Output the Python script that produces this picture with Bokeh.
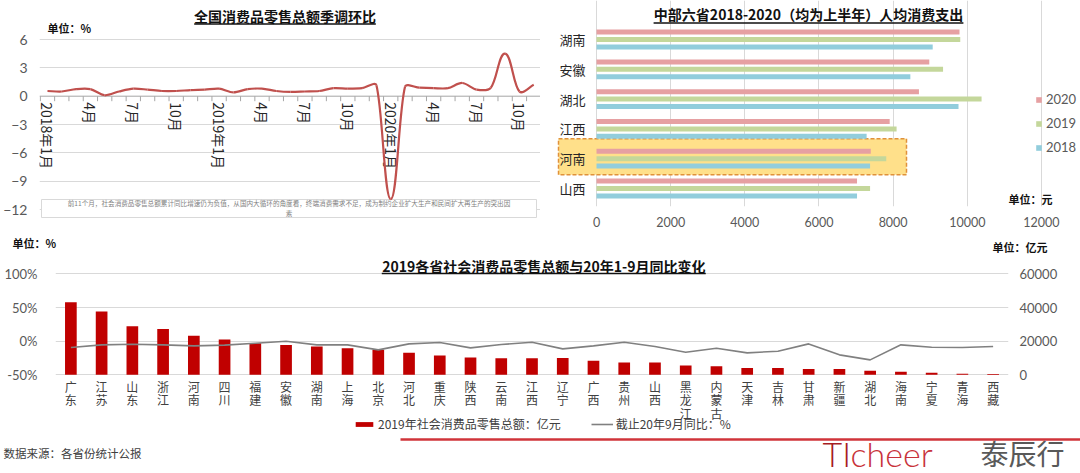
import numpy as np
from bokeh.plotting import figure
from bokeh.models import (Range1d, FixedTicker, LinearAxis, Legend, LegendItem,
                          PrintfTickFormatter, Span)
from bokeh.layouts import column, row
from bokeh.core.properties import value
from bokeh.embed import file_html
from bokeh.resources import INLINE

CJK = "Noto Sans CJK SC"
NUM = "Lato"

# ---------------- data: chart 1 (national retail sales, s.a. m/m %) ----------------
mom_values = [0.55, 0.5, 0.75, 0.75, 0.1, 0.5, 0.8, 0.7, 0.55, 0.55, 0.65, 0.7,
              0.8, 0.4, 0.75, 0.8, 0.55, 0.45, 0.5, 0.55, 0.85, 0.8, 0.85, 1.15,
              -10.9, 1.0, 0.9, 0.85, 0.85, 1.4, 0.7, 0.9, 4.5, 0.5, 1.2]
mom_tick_pos = [0, 3, 6, 9, 12, 15, 18, 21, 24, 27, 30, 33]
mom_tick_labels = ["2018年1月", "4月", "7月", "10月", "2019年1月", "4月", "7月", "10月",
                   "2020年1月", "4月", "7月", "10月"]
mom_y_ticks = [6, 3, 0, -3, -6, -9, -12]
mom_title = "全国消费品零售总额季调环比"
mom_unit = "单位：%"
mom_note = ("前11个月，社会消费品零售总额累计同比增速仍为负值，从国内大循环的角度看，"
            "终端消费需求不足，成为制约企业扩大生产和民间扩大再生产的突出因\n素")

# ---------------- data: chart 2 (six central provinces, per-capita spending) ----------------
prov6 = ["湖南", "安徽", "湖北", "江西", "河南", "山西"]
spend_2020 = [9790, 8975, 8696, 7907, 7397, 7026]
spend_2019 = [9810, 9346, 10385, 8093, 7814, 7378]
spend_2018 = [9067, 8464, 9763, 7285, 7378, 7026]
spend_ticks = [0, 2000, 4000, 6000, 8000, 10000, 12000]
spend_highlight = "河南"
spend_title = "中部六省2018-2020（均为上半年）人均消费支出"
spend_unit = "单位：元"

# ---------------- data: chart 3 (provinces) ----------------
prov31 = ["广东", "江苏", "山东", "浙江", "河南", "四川", "福建", "安徽", "湖南", "上海",
          "北京", "河北", "重庆", "陕西", "云南", "江西", "辽宁", "广西", "贵州", "山西",
          "黑龙江", "内蒙古", "天津", "吉林", "甘肃", "新疆", "湖北", "海南", "宁夏", "青海", "西藏"]
retail_2019 = [43200, 37600, 28900, 27300, 23200, 21000, 18800, 17800, 16800, 15800,
               14850, 13100, 11500, 10300, 9900, 9900, 10000, 8400, 7400, 7400,
               5500, 5100, 4100, 4100, 3450, 3450, 2450, 1850, 1250, 700, 500]
yoy_2020 = [-9.4, -5.4, -4.5, -5.4, -6.9, -5.9, -3.0, 0.0, -5.4, -5.4,
            -12.9, -4.0, -2.0, -9.9, -5.0, -1.5, -11.4, -6.9, -1.5, -7.9,
            -16.3, -10.4, -17.3, -14.9, -4.0, -20.3, -27.7, -5.4, -8.9, -9.4, -7.9]
pct_ticks = [-50, 0, 50, 100]
amt_ticks = [0, 20000, 40000, 60000]
prov_title = "2019各省社会消费品零售总额与20年1-9月同比变化"
prov_unit_left = "单位：%"
prov_unit_right = "单位：亿元"
legend_bar = "2019年社会消费品零售总额：亿元"
legend_line = "截止20年9月同比：%"
source_text = "数据来源：各省份统计公报"
logo_a, logo_b, logo_c = "TI", "cheer", "泰辰行"


def est_w(text, size, narrow=0.57):
    return sum(size if ord(c) > 0x2E80 else size * narrow for c in text)


def base_fig(**kw):
    f = figure(output_backend="svg", toolbar_location=None, frame_align=False, **kw)
    f.outline_line_color = None
    f.background_fill_color = "white"
    f.border_fill_color = "white"
    return f


def style_axis(ax, size="13px", standoff=5):
    ax.major_label_text_font = NUM
    ax.major_label_text_font_size = size
    ax.major_label_text_color = "#595959"
    ax.major_tick_line_color = None
    ax.minor_tick_line_color = None
    ax.axis_line_color = None
    ax.major_label_standoff = standoff


def label(f, x, y, txt, size="11px", bold=True, align="left", color="#111111", font=CJK):
    f.text(x=[x], y=[y], text=[txt], text_font=value(font), text_font_size=size,
           text_font_style="bold" if bold else "normal", text_align=align,
           text_baseline="middle", text_color=color)


# ======================= chart 1 (page x 0-540, y 0-230) =======================
SX1, SY1 = 14.33, 9.444          # px per month, px per 1 %
X0_1, Y0_1 = 46.0, 95.7          # page px of first month and of value 0


def p1x(px):
    return (px - X0_1) / SX1


def p1y(py):
    return (Y0_1 - py) / SY1


p1 = base_fig(width=540, height=230, x_range=Range1d(p1x(38), p1x(540)),
              y_range=Range1d(p1y(230), p1y(0)), x_axis_type=None,
              min_border_left=38, min_border_right=0, min_border_top=0, min_border_bottom=0)
ya1 = p1.yaxis[0]
ya1.ticker = FixedTicker(ticks=mom_y_ticks)
style_axis(ya1, "14px", 6)
p1.ygrid.ticker = FixedTicker(ticks=[t for t in mom_y_ticks if t != 0])
p1.ygrid.grid_line_color = "#d9d9d9"

zero = Span(location=0, dimension="width", line_color="#a6a6a6", line_width=1)
zero.level = "underlay"
p1.add_layout(zero)

n_m = len(mom_values)
bounds = [i - 0.5 for i in range(n_m + 1)]
p1.segment(x0=bounds, x1=bounds, y0=[0] * len(bounds), y1=[-5 / SY1] * len(bounds),
           line_color="#a6a6a6", line_width=1)

# note box
p1.quad(left=[p1x(40)], right=[p1x(536)], bottom=[p1y(217)], top=[p1y(199)],
        fill_color="white", line_color="#d9d9d9", line_width=1)
p1.text(x=[p1x(288)], y=[p1y(207.5)], text=[mom_note], text_font=value(CJK),
        text_font_size="6.6px", text_color="#7f7f7f", text_align="center",
        text_baseline="middle", text_line_height=1.05)

# month labels hanging under the zero line
p1.text(x=mom_tick_pos, y=[-6 / SY1] * len(mom_tick_pos), text=mom_tick_labels,
        angle=-np.pi / 2, text_font=value(CJK), text_font_size="14px",
        text_color="#262626", text_align="left", text_baseline="middle")


# smoothed line (Excel-like) drawn with bezier segments through the data points
def smooth(xs, ys, sx, sy, k=0.3, clamp=0.45):
    P = np.stack([np.asarray(xs, float) * sx, np.asarray(ys, float) * sy], 1)
    n = len(P)
    hin = P.copy()
    hout = P.copy()
    for i in range(n):
        d = P[min(i + 1, n - 1)] - P[max(i - 1, 0)]
        d = d / np.hypot(*d)
        if i > 0:
            seg = P[i] - P[i - 1]
            h = d * np.hypot(*seg) * k
            if abs(h[0]) > clamp * seg[0]:
                h = h * clamp * seg[0] / abs(h[0])
            hin[i] = P[i] - h
        if i < n - 1:
            seg = P[i + 1] - P[i]
            h = d * np.hypot(*seg) * k
            if abs(h[0]) > clamp * seg[0]:
                h = h * clamp * seg[0] / abs(h[0])
            hout[i] = P[i] + h
    return dict(x0=P[:-1, 0] / sx, y0=P[:-1, 1] / sy, x1=P[1:, 0] / sx, y1=P[1:, 1] / sy,
                cx0=hout[:-1, 0] / sx, cy0=hout[:-1, 1] / sy,
                cx1=hin[1:, 0] / sx, cy1=hin[1:, 1] / sy)


bz = smooth(list(range(n_m)), mom_values, SX1, SY1)
p1.bezier(line_color="#C0504D", line_width=2.2, **bz)

label(p1, p1x(284), p1y(15), mom_title, size="14px", align="center")
w1 = est_w(mom_title, 14)
p1.segment(x0=[p1x(284 - w1 / 2)], x1=[p1x(284 + w1 / 2)], y0=[p1y(23.5)], y1=[p1y(23.5)],
           line_color="#111111", line_width=1.3)
label(p1, p1x(46), p1y(27), mom_unit)

# ======================= chart 2 (page x 540-1080, y 0-230) =======================
PPU2 = 0.03708                     # px per unit
X0_2, Y0_2, G2 = 596.0, 39.0, 29.8  # page px of 0, of first group, px per group


def p2x(px):
    return (px - X0_2) / PPU2


def p2y(py):
    return -(py - Y0_2) / G2


p2 = base_fig(width=540, height=230, x_range=Range1d(p2x(548), p2x(1080)),
              y_range=Range1d(p2y(206), p2y(0)), y_axis_type=None,
              min_border_left=8, min_border_right=0, min_border_top=0, min_border_bottom=24)
xa2 = p2.xaxis[0]
xa2.ticker = FixedTicker(ticks=spend_ticks)
style_axis(xa2, "12.5px", 4)
p2.xgrid.grid_line_color = "#d9d9d9"

gy = [-i for i in range(len(prov6))]
hi = -prov6.index(spend_highlight)
p2.quad(left=[p2x(558)], right=[p2x(906)], bottom=[hi - 16 / G2], top=[hi + 20 / G2],
        fill_color="#FFE08A", line_color="#E0913A", line_width=1.5, line_dash="4 2")

off, bh = 7.4 / G2, 5.0 / G2
r20 = p2.hbar(y=[g + off for g in gy], right=spend_2020, left=0, height=bh,
              fill_color="#E6A0A2", line_color=None)
r19 = p2.hbar(y=gy, right=spend_2019, left=0, height=bh, fill_color="#C4D79B", line_color=None)
r18 = p2.hbar(y=[g - off for g in gy], right=spend_2018, left=0, height=bh,
              fill_color="#92CDDC", line_color=None)

p2.text(x=[p2x(572)] * len(prov6), y=gy, text=prov6, text_font=value(CJK),
        text_font_size="13px", text_color="#262626", text_align="center",
        text_baseline="middle")

leg2 = Legend(items=[LegendItem(label="2020", renderers=[r20]),
                     LegendItem(label="2019", renderers=[r19]),
                     LegendItem(label="2018", renderers=[r18])],
              location=(487, 49), orientation="vertical", glyph_width=7, glyph_height=7,
              label_height=20, spacing=4, padding=0, margin=0, label_standoff=4,
              label_text_font=NUM, label_text_font_size="13px", label_text_color="#595959",
              background_fill_alpha=0, border_line_alpha=0)
p2.add_layout(leg2)

label(p2, p2x(808), p2y(13), spend_title, size="14px", align="center")
w2 = est_w(spend_title, 14)
p2.segment(x0=[p2x(808 - w2 / 2)], x1=[p2x(808 + w2 / 2)], y0=[p2y(22.5)], y1=[p2y(22.5)],
           line_color="#111111", line_width=1.3)
label(p2, p2x(1008), p2y(198), spend_unit)

# ======================= unit strip above chart 3 (page y 230-254) =======================
pU = base_fig(width=1080, height=24, x_range=Range1d(0, 1080), y_range=Range1d(254, 230),
              x_axis_type=None, y_axis_type=None, min_border=0)
label(pU, 12, 242, prov_unit_left)
label(pU, 992, 246, prov_unit_right)

# ======================= chart 3 (page y 254-432) =======================
NP = len(prov31)
FL3, FR3 = 55.0, 1007.5            # page px of frame left / right
SX3 = (FR3 - FL3) / NP
X0_3 = FL3 + SX3 / 2
SY3, Y0_3 = 0.6733, 340.7          # px per 1 %, page px of 0 %


def p3x(px):
    return (px - X0_3) / SX3


def p3y(py):
    return (Y0_3 - py) / SY3


def pct_to_amt(v):
    return (v - pct_ticks[0]) * (amt_ticks[-1] - amt_ticks[0]) / (pct_ticks[-1] - pct_ticks[0])


ylo, yhi = p3y(432), p3y(254)
p3 = base_fig(width=1080, height=178, x_range=Range1d(-0.5, NP - 0.5),
              y_range=Range1d(ylo, yhi), x_axis_type=None,
              min_border_left=int(FL3), min_border_right=int(1080 - FR3), min_border_top=0,
              min_border_bottom=0)
p3.extra_y_ranges = {"amt": Range1d(pct_to_amt(ylo), pct_to_amt(yhi))}
ya3 = p3.yaxis[0]
ya3.ticker = FixedTicker(ticks=pct_ticks)
ya3.formatter = PrintfTickFormatter(format="%d%%")
style_axis(ya3, "13px", 12)
p3.ygrid.ticker = FixedTicker(ticks=pct_ticks)
p3.ygrid.grid_line_color = "#d9d9d9"
ra3 = LinearAxis(y_range_name="amt", ticker=FixedTicker(ticks=amt_ticks))
style_axis(ra3, "13px", 5)
p3.add_layout(ra3, "right")

xi = list(range(NP))
rb = p3.vbar(x=xi, bottom=0, top=retail_2019, width=0.38, y_range_name="amt",
             fill_color="#C00000", line_color=None)
rl = p3.line(x=xi, y=yoy_2020, line_color="#808080", line_width=1.6)

p3.text(x=xi, y=[pct_ticks[0] - 3 / SY3] * NP, text=["\n".join(n) for n in prov31],
        text_font=value(CJK), text_font_size="12px", text_color="#404040",
        text_align="center", text_baseline="top", text_line_height=0.8)

leg3 = Legend(items=[LegendItem(label=legend_bar, renderers=[rb]),
                     LegendItem(label=legend_line, renderers=[rl])],
              location=(298, 0), orientation="horizontal", glyph_width=22, glyph_height=6,
              label_height=14, spacing=30, padding=0, margin=0, label_standoff=3,
              label_text_font=CJK, label_text_font_size="12px", label_text_color="#404040",
              background_fill_alpha=0, border_line_alpha=0)
p3.add_layout(leg3)

label(p3, p3x(543), p3y(265), prov_title, size="14px", align="center")
w3 = est_w(prov_title, 14)
p3.segment(x0=[p3x(543 - w3 / 2)], x1=[p3x(543 + w3 / 2)], y0=[p3y(273)], y1=[p3y(273)],
           line_color="#111111", line_width=1.3)

# ======================= footer (page y 432-473) =======================
p4 = base_fig(width=1080, height=41, x_range=Range1d(0, 1080), y_range=Range1d(473, 432),
              x_axis_type=None, y_axis_type=None, min_border=0)
p4.segment(x0=[400], x1=[1080], y0=[439], y1=[439], line_color="#D0343A", line_width=2.5)
label(p4, 3, 452, source_text, size="11.5px", bold=False, color="#404040")
label(p4, 822, 452.5, logo_a, size="34px", bold=False, color="#A61C23", font="Lato Light, Lato")
label(p4, 850, 452.5, logo_b, size="34px", bold=False, color="#C8323A", font="Lato Light, Lato")
label(p4, 980, 452.5, logo_c, size="28px", bold=False, color="#595959")

layout = column(row(p1, p2, spacing=0), pU, p3, p4, spacing=0)
open("out.html", "w").write(file_html(layout, INLINE, title="chart"))
